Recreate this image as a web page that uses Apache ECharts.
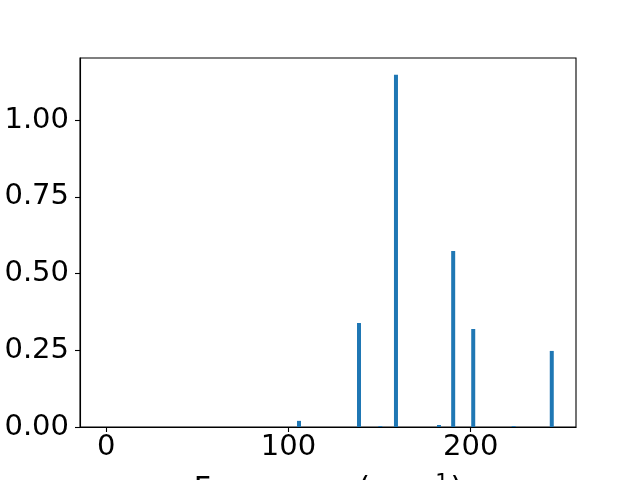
<!DOCTYPE html>
<html>
<head>
<meta charset="utf-8">
<script src="https://cdn.jsdelivr.net/npm/echarts@6/dist/echarts.min.js"></script>
<style>html,body{margin:0;padding:0;background:#fff;}#c{width:640px;height:480px;}</style>
</head>
<body>
<div id="c"></div>
<script>
var frequencies = [105.8, 138.7, 150.4, 159.0, 182.6, 190.4, 201.4, 223.6, 244.5];
var intensities = [0.020, 0.339, 0.003, 1.148, 0.0065, 0.574, 0.3195, 0.003, 0.248];
var xTicks = [0, 100, 200];
var yTicks = [0, 0.25, 0.5, 0.75, 1.0];

var chart = echarts.init(document.getElementById('c'), null, {renderer: 'canvas'});
var font = 'DejaVu Sans';
var data = frequencies.map(function (f, i) { return [f, intensities[i]]; });
chart.setOption({
  animation: false,
  grid: {left: 80, right: 64, top: 58, bottom: 53, containLabel: false, outerBoundsMode: 'none', show: true, borderColor: '#000', borderWidth: 1.1, backgroundColor: 'transparent'},
  xAxis: {
    type: 'value', min: -14.4, max: 257.8,
    splitLine: {show: false},
    axisLine: {show: true, onZero: false, lineStyle: {color: '#000', width: 1.1}},
    axisTick: {show: true, length: 5, lineStyle: {color: '#000', width: 1.1}, customValues: xTicks},
    axisLabel: {fontFamily: font, fontSize: 29, color: '#000', margin: 6, customValues: xTicks, formatter: function (v) { return String(v); }},
    name: '{m|Frequency (cm}{s|\u22121}{m|)}',
    nameLocation: 'middle', nameGap: 46,
    nameTextStyle: {rich: {m: {fontFamily: font, fontSize: 30, color: '#000'}, s: {fontFamily: font, fontSize: 21, color: '#000', verticalAlign: 'top', padding: [0, 2, 14, 2]}}}
  },
  yAxis: {
    type: 'value', min: 0, max: 1.203,
    splitLine: {show: false},
    axisLine: {show: true, onZero: false, lineStyle: {color: '#000', width: 1.1}},
    axisTick: {show: true, length: 5, lineStyle: {color: '#000', width: 1.1}, customValues: yTicks},
    axisLabel: {fontFamily: font, fontSize: 29, color: '#000', margin: 11, customValues: yTicks, formatter: function (v) { return v.toFixed(2); }}
  },
  series: [{
    type: 'bar', data: data, barWidth: 4,
    itemStyle: {color: '#1f77b4'}
  }]
});
</script>
</body>
</html>
